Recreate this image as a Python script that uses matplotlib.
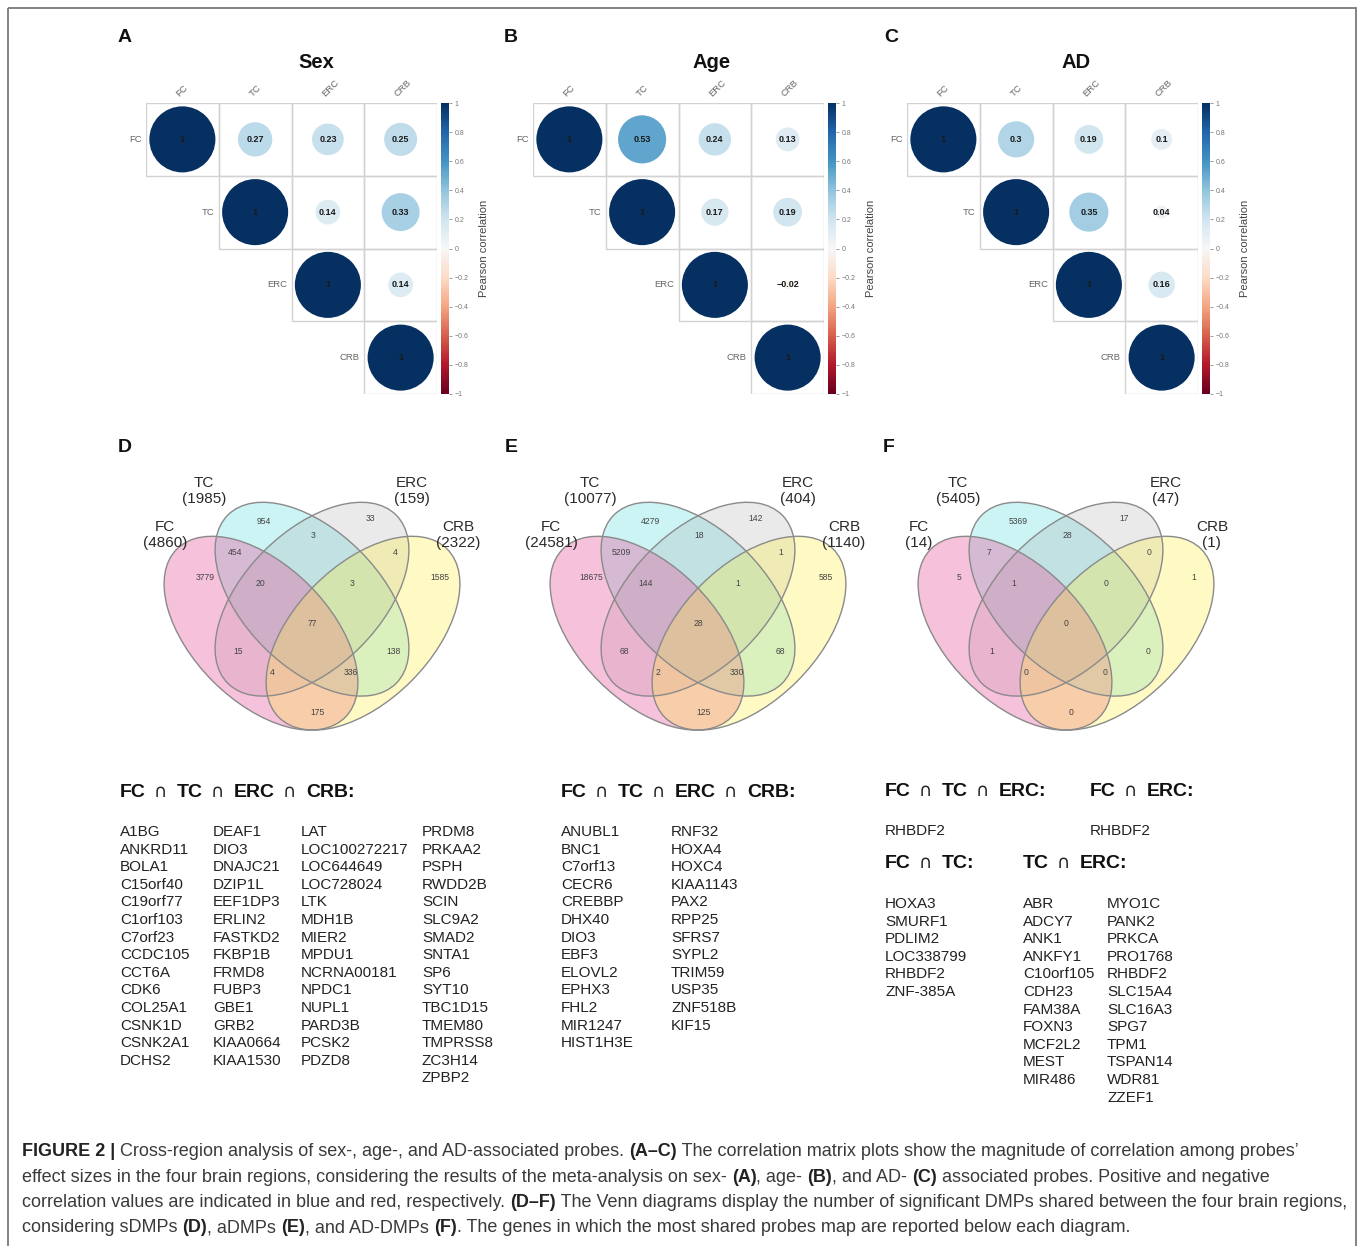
import numpy as np
import matplotlib
matplotlib.use("Agg")
from matplotlib import pyplot as plt
from matplotlib.patches import Circle, Ellipse, Rectangle
from matplotlib.colors import Normalize
from matplotlib.cm import ScalarMappable
from matplotlib.font_manager import FontProperties

W, H = 1360, 1246
FONT = ["Liberation Sans", "DejaVu Sans"]
plt.rcParams["font.family"] = FONT

REGIONS = ["FC", "TC", "ERC", "CRB"]

# upper triangle of each correlation matrix, row by row
SEX_CORR = [0.27, 0.23, 0.25, 0.14, 0.33, 0.14]
AGE_CORR = [0.53, 0.24, 0.13, 0.17, 0.19, -0.02]
AD_CORR = [0.3, 0.19, 0.1, 0.35, 0.04, 0.16]

# probe counts in every Venn area
VENN_AREAS = ["FC", "TC", "ERC", "CRB", "FC&TC", "FC&ERC", "FC&CRB", "TC&ERC",
              "TC&CRB", "ERC&CRB", "FC&TC&ERC", "FC&TC&CRB", "FC&ERC&CRB",
              "TC&ERC&CRB", "FC&TC&ERC&CRB"]
SDMP_COUNTS = [3779, 954, 33, 1585, 454, 15, 175, 3, 138, 4, 20, 336, 4, 3, 77]
ADMP_COUNTS = [18675, 4279, 142, 585, 5209, 68, 125, 18, 68, 1, 144, 330, 2, 1, 28]
ADDMP_COUNTS = [5, 5369, 17, 1, 7, 1, 0, 28, 0, 0, 1, 0, 0, 0, 0]

SEX_GENES = [
    ["A1BG", "ANKRD11", "BOLA1", "C15orf40", "C19orf77", "C1orf103", "C7orf23",
     "CCDC105", "CCT6A", "CDK6", "COL25A1", "CSNK1D", "CSNK2A1", "DCHS2"],
    ["DEAF1", "DIO3", "DNAJC21", "DZIP1L", "EEF1DP3", "ERLIN2", "FASTKD2",
     "FKBP1B", "FRMD8", "FUBP3", "GBE1", "GRB2", "KIAA0664", "KIAA1530"],
    ["LAT", "LOC100272217", "LOC644649", "LOC728024", "LTK", "MDH1B", "MIER2",
     "MPDU1", "NCRNA00181", "NPDC1", "NUPL1", "PARD3B", "PCSK2", "PDZD8"],
    ["PRDM8", "PRKAA2", "PSPH", "RWDD2B", "SCIN", "SLC9A2", "SMAD2", "SNTA1",
     "SP6", "SYT10", "TBC1D15", "TMEM80", "TMPRSS8", "ZC3H14", "ZPBP2"],
]
AGE_GENES = [
    ["ANUBL1", "BNC1", "C7orf13", "CECR6", "CREBBP", "DHX40", "DIO3", "EBF3",
     "ELOVL2", "EPHX3", "FHL2", "MIR1247", "HIST1H3E"],
    ["RNF32", "HOXA4", "HOXC4", "KIAA1143", "PAX2", "RPP25", "SFRS7", "SYPL2",
     "TRIM59", "USP35", "ZNF518B", "KIF15"],
]
AD_FC_TC_ERC = ["RHBDF2"]
AD_FC_ERC = ["RHBDF2"]
AD_FC_TC = ["HOXA3", "SMURF1", "PDLIM2", "LOC338799", "RHBDF2", "ZNF-385A"]
AD_TC_ERC = [
    ["ABR", "ADCY7", "ANK1", "ANKFY1", "C10orf105", "CDH23", "FAM38A", "FOXN3",
     "MCF2L2", "MEST", "MIR486"],
    ["MYO1C", "PANK2", "PRKCA", "PRO1768", "RHBDF2", "SLC15A4", "SLC16A3",
     "SPG7", "TPM1", "TSPAN14", "WDR81", "ZZEF1"],
]

CAPTION = [
    [("FIGURE 2 |", True), (" Cross-region analysis of sex-, age-, and AD-associated probes. ", False),
     ("(A\u2013C)", True), (" The correlation matrix plots show the magnitude of correlation among probes\u2019", False)],
    [("effect sizes in the four brain regions, considering the results of the meta-analysis on sex- ", False),
     ("(A)", True), (", age- ", False), ("(B)", True), (", and AD- ", False), ("(C)", True),
     (" associated probes. Positive and negative", False)],
    [("correlation values are indicated in blue and red, respectively. ", False), ("(D\u2013F)", True),
     (" The Venn diagrams display the number of significant DMPs shared between the four brain regions,", False)],
    [("considering sDMPs ", False), ("(D)", True), (", aDMPs ", False), ("(E)", True),
     (", and AD-DMPs ", False), ("(F)", True),
     (". The genes in which the most shared probes map are reported below each diagram.", False)],
]

cmap = plt.get_cmap("RdBu")
norm = Normalize(-1, 1)

fig = plt.figure(figsize=(W / 100, H / 100), dpi=100)
canvas = fig.add_axes([0, 0, 1, 1])
canvas.set_xlim(0, W)
canvas.set_ylim(H, 0)
canvas.axis("off")
renderer = fig.canvas.get_renderer()


def box(left, top, width, height):
    return [left / W, 1 - (top + height) / H, width / W, height / H]


def fmt(v):
    v = round(float(v), 2) + 0.0
    return f"{v:g}".replace("-", "\u2212")


def advance(s, prop):
    # width of a string including any trailing blanks
    w_s, _, _ = renderer.get_text_width_height_descent(s + "x", prop, False)
    w_x, _, _ = renderer.get_text_width_height_descent("x", prop, False)
    return w_s - w_x


def corr_panel(left, title, title_x, letter, letter_x, vals):
    size = 291
    top = 103
    mat = np.eye(4)
    mat[np.triu_indices(4, 1)] = vals
    ax = fig.add_axes(box(left, top, size, size))
    ax.set_xlim(-0.5, 3.5)
    ax.set_ylim(3.5, -0.5)
    ax.axis("off")
    for i in range(4):
        for j in range(i, 4):
            r = mat[i, j]
            ax.add_patch(Rectangle((j - 0.5, i - 0.5), 1, 1, fill=False,
                                   ec="#d2d2d2", lw=1.0))
            ax.add_patch(Circle((j, i), 0.454 * np.sqrt(abs(r)),
                                fc=cmap(norm(r)), lw=0))
            ax.text(j, i, fmt(r), ha="center", va="center", fontsize=6.5,
                    weight="bold", color="#1a1a1a")
        ax.text(i - 0.56, i, REGIONS[i], ha="right", va="center",
                fontsize=6.8, color="#666666")
        ax.text(i - 0.02, -0.56, REGIONS[i], ha="left", va="bottom",
                rotation=45, rotation_mode="anchor", fontsize=6.8,
                color="#666666")

    cax = fig.add_axes(box(left + 295, top, 8, size))
    cb = fig.colorbar(ScalarMappable(norm=norm, cmap=cmap), cax=cax)
    ticks = np.round(np.arange(-1, 1.01, 0.2), 1)
    cb.set_ticks(ticks)
    cb.set_ticklabels([fmt(t) for t in ticks])
    cb.outline.set_visible(False)
    cax.tick_params(labelsize=5, colors="#777777", length=2, width=0.5,
                    pad=2, labelcolor="#777777")
    canvas.text(left + 338, top + size / 2, "Pearson correlation",
                rotation=90, ha="center", va="center", fontsize=8,
                color="#444444")
    canvas.text(title_x, 63, title, ha="center", va="center", fontsize=14.5,
                weight="bold", color="#111111")
    canvas.text(letter_x, 37, letter, ha="center", va="center", fontsize=14,
                weight="bold", color="#111111")


# label spots inside the four-ellipse layout (unit square)
AREA_XY = {
    "FC": (0.185, 0.635), "TC": (0.359, 0.800), "ERC": (0.671, 0.806),
    "CRB": (0.876, 0.635), "FC&TC": (0.274, 0.706), "FC&ERC": (0.282, 0.415),
    "FC&CRB": (0.515, 0.238), "TC&ERC": (0.503, 0.756), "TC&CRB": (0.741, 0.415),
    "ERC&CRB": (0.744, 0.706), "FC&TC&ERC": (0.347, 0.615),
    "FC&TC&CRB": (0.615, 0.353), "FC&ERC&CRB": (0.382, 0.353),
    "TC&ERC&CRB": (0.618, 0.615), "FC&TC&ERC&CRB": (0.5, 0.5),
}
SET_SHAPES = {
    "FC": ((0.35, 0.47), -45, "#e8559a", 0.36),
    "TC": ((0.50, 0.57), -45, "#3cd7dc", 0.26),
    "ERC": ((0.50, 0.57), 45, "#a0a0a0", 0.22),
    "CRB": ((0.65, 0.47), 45, "#ffec3c", 0.30),
}
FILL_ORDER = ["TC", "ERC", "FC", "CRB"]
SET_LABEL_XY = {"FC": (0.068, 0.759), "TC": (0.182, 0.888),
                "ERC": (0.794, 0.888), "CRB": (0.929, 0.759)}


def venn_panel(cx, letter, letter_x, counts):
    scale = 340
    ax = fig.add_axes(box(cx - scale / 2, 623 - scale / 2, scale, scale))
    ax.set_xlim(0, 1)
    ax.set_ylim(0, 1)
    ax.axis("off")
    for name in FILL_ORDER:
        (x, y), ang, col, alpha = SET_SHAPES[name]
        ax.add_patch(Ellipse((x, y), 0.70, 0.40, angle=ang, fc=col,
                             alpha=alpha, lw=0))
    for name in REGIONS:
        (x, y), ang, col, alpha = SET_SHAPES[name]
        ax.add_patch(Ellipse((x, y), 0.70, 0.40, angle=ang, fill=False,
                             ec="#8a8a8a", lw=1.0))
    for area, n in zip(VENN_AREAS, counts):
        x, y = AREA_XY[area]
        ax.text(x, y, str(n), ha="center", va="center", fontsize=6.2,
                color="#444444")
    for name in REGIONS:
        total = sum(n for area, n in zip(VENN_AREAS, counts)
                    if name in area.split("&"))
        x, y = SET_LABEL_XY[name]
        ax.text(x, y, f"{name}\n({total})", ha="center", va="center",
                fontsize=11, color="#2a2a2a", linespacing=1.15)
    canvas.text(letter_x, 447, letter, ha="center", va="center", fontsize=14,
                weight="bold", color="#111111")


def gene_column(x, y, genes):
    for k, g in enumerate(genes):
        canvas.text(x, y + k * 17.6, g, ha="left", va="center", fontsize=11,
                    color="#222222")


HEAD_BOLD = FontProperties(family=FONT, size=14, weight="bold")
HEAD_CAP = FontProperties(family="DejaVu Sans", size=13, weight="normal")


def header(x, y, names):
    # region names joined by an intersection sign set in lighter type
    base = y + 7
    for k, name in enumerate(names):
        if k:
            x += 8
            canvas.text(x, base, "\u2229", ha="left", va="baseline",
                        fontproperties=HEAD_CAP, color="#222222")
            x += advance("\u2229", HEAD_CAP) + 10
        s = name + (":" if k == len(names) - 1 else "")
        canvas.text(x, base, s, ha="left", va="baseline",
                    fontproperties=HEAD_BOLD, color="#111111")
        x += advance(name, HEAD_BOLD)


corr_panel(146, "Sex", 316, "A", 125, SEX_CORR)
corr_panel(533, "Age", 712, "B", 511, AGE_CORR)
corr_panel(907, "AD", 1076, "C", 891, AD_CORR)

venn_panel(312, "D", 125, SDMP_COUNTS)
venn_panel(698, "E", 511, ADMP_COUNTS)
venn_panel(1066, "F", 889, ADDMP_COUNTS)

header(120, 790, ["FC", "TC", "ERC", "CRB"])
for x, col in zip([120, 213, 301, 422], SEX_GENES):
    gene_column(x, 832, col)

header(561, 790, ["FC", "TC", "ERC", "CRB"])
for x, col in zip([561, 671], AGE_GENES):
    gene_column(x, 832, col)

header(885, 789, ["FC", "TC", "ERC"])
header(1090, 789, ["FC", "ERC"])
gene_column(885, 831, AD_FC_TC_ERC)
gene_column(1090, 831, AD_FC_ERC)
header(885, 861, ["FC", "TC"])
header(1023, 861, ["TC", "ERC"])
gene_column(885, 904, AD_FC_TC)
for x, col in zip([1023, 1107], AD_TC_ERC):
    gene_column(x, 904, col)

# figure frame and caption
canvas.add_patch(Rectangle((8, 8), 1348, 1300, fill=False, ec="#7a7a7a",
                           lw=1.3))
cap_size = 13.0
for k, line in enumerate(CAPTION):
    x = 22
    y = 1152 + k * 25.3
    for s, bold in line:
        prop = FontProperties(family=FONT, size=cap_size,
                              weight="bold" if bold else "normal")
        canvas.text(x, y, s, ha="left", va="center", fontproperties=prop,
                    color="#222222" if bold else "#3a3a3a")
        x += advance(s, prop)

fig.savefig("out.png", dpi=100)
